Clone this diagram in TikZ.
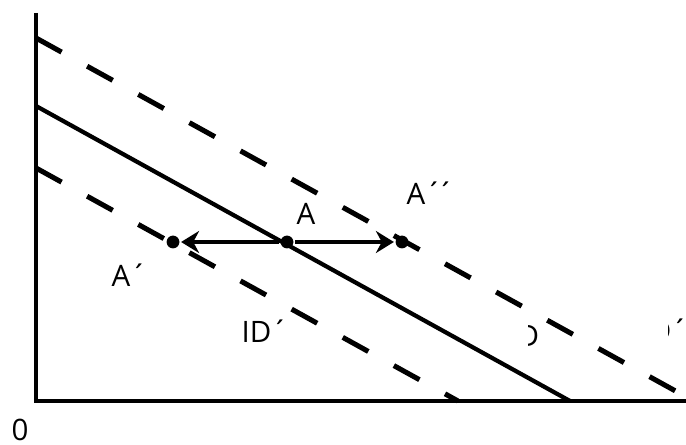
\documentclass[tikz,border=0pt]{standalone}
\usepackage{fontspec}
\setmainfont{Open Sans}
\usetikzlibrary{arrows.meta}

\tikzset{
  axis/.style={line width=3.2pt},
  budget/.style={line width=3pt},
  shifted/.style={line width=3.6pt, dash pattern=on 0.73cm off 0.73cm},
  dot/.style={circle, fill, inner sep=0pt, minimum size=0.32cm},
  lbl/.style={anchor=base west, inner sep=0pt, font=\fontsize{21pt}{25pt}\selectfont},
}
\newcommand{\pp}{´\kern-0.18em´}

\begin{document}
\begin{tikzpicture}[>={Stealth[length=0.45cm,width=0.55cm]}, line width=2.4pt]
  \useasboundingbox (-0.9,-1.1) rectangle (16.25,10.025);

  % axes
  \coordinate (O) at (0,0);
  \coordinate (ytop) at (0,9.7);
  \coordinate (xend) at (16.25,0);
  \draw[axis] (ytop) -- (O) -- (xend);
  \node[lbl] (zero) at (-0.65,-0.98) {0};

  % lines
  \coordinate (s0) at (0,7.375);
  \coordinate (s1) at (13.35,0);
  \coordinate (u0) at (0,9.075);
  \coordinate (u1) at (16.25,0.105);
  \coordinate (l0) at (0,5.825);
  \coordinate (l1) at (10.55,0);
  \draw[budget] (s0) -- (s1);
  \draw[shifted] (u0) -- (u1);
  \draw[shifted] (l0) -- (l1);

  % points and moves
  \node[dot] (A) at (6.275,3.975) {};
  \node[dot] (A1) at (3.425,3.975) {};
  \node[dot] (A2) at (9.15,3.975) {};
  \draw[->] (A) -- (A1);
  \draw[->] (A) -- (A2);

  % labels
  \node[lbl] (labA) at (6.475,4.4) {A};
  \node[lbl] (labA2) at (9.225,4.9) {A\pp};
  \node[lbl] (labA1) at (1.85,2.85) {A´};
  \node[lbl] (labID1) at (5.1,1.45) {ID´};
  \begin{scope}
    \clip (12.32,0.9) rectangle (13,2.2);
    \node[lbl, anchor=base east] (labID) at (12.62,1.35) {ID};
  \end{scope}
  \begin{scope}
    \clip (15.8,0.9) rectangle (16.25,2.2);
    \node[lbl] (labID2) at (15.1,1.475) {ID\pp};
  \end{scope}
\end{tikzpicture}
\end{document}
